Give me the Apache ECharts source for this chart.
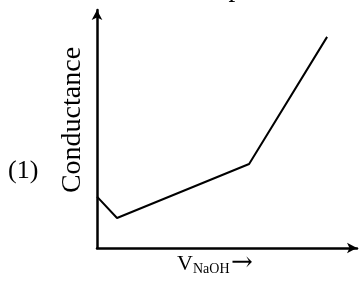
<!DOCTYPE html>
<html><head><meta charset="utf-8">
<script src="https://cdn.jsdelivr.net/npm/echarts@6/dist/echarts.min.js"></script>
<style>html,body{margin:0;padding:0;background:#fff}#c{width:359px;height:284px}</style>
</head><body><div id="c"></div>
<script>
var volumes = [0, 7.7, 58.5, 88.5];
var conductance = [21.6, 12.6, 35.3, 88.7];
var yLabel = 'Conductance';
var xLabelMain = 'V';
var xLabelSub = 'NaOH';
var optionLabel = '(1)';
var headerText = 'Choose the correct representation';

var chart = echarts.init(document.getElementById('c'), null, {renderer: 'canvas'});
var serif = '"Liberation Serif", "Times New Roman", serif';
chart.setOption({
  animation: false,
  grid: {left: 97, right: 2, top: 10, bottom: 36, containLabel: false},
  xAxis: {type: 'value', min: 0, max: 100,
    axisLine: {show: true, symbol: ['none', 'arrow'], symbolSize: [8, 10], lineStyle: {color: '#000', width: 2.5}},
    axisTick: {show: false}, axisLabel: {show: false}, splitLine: {show: false}},
  yAxis: {type: 'value', min: 0, max: 100,
    axisLine: {show: true, symbol: ['none', 'arrow'], symbolSize: [8, 10], lineStyle: {color: '#000', width: 2.5}},
    axisTick: {show: false}, axisLabel: {show: false}, splitLine: {show: false}},
  series: [{type: 'line', data: volumes.map(function(v, i){return [v, conductance[i]];}),
    symbol: 'none', lineStyle: {color: '#000', width: 2}}],
  graphic: [
    {type: 'text', left: 'center', top: -25, style: {text: headerText, font: '27px ' + serif, fill: '#000'}},
    {type: 'text', x: 8, y: 158, style: {text: optionLabel, font: '26px ' + serif, fill: '#000'}},
    {type: 'text', x: 73, y: 120, rotation: Math.PI / 2,
      style: {text: yLabel, font: '28px ' + serif, fill: '#000', align: 'center', verticalAlign: 'middle'}},
    {type: 'text', x: 177, y: 253, style: {text: xLabelMain, font: '22px ' + serif, fill: '#000'}},
    {type: 'text', x: 193, y: 262, style: {text: xLabelSub, font: '14px ' + serif, fill: '#000'}},
    {type: 'text', x: 231, y: 250, style: {text: '\u2192', font: '26px "DejaVu Serif", serif', fill: '#000'}}
  ]
});
</script></body></html>
